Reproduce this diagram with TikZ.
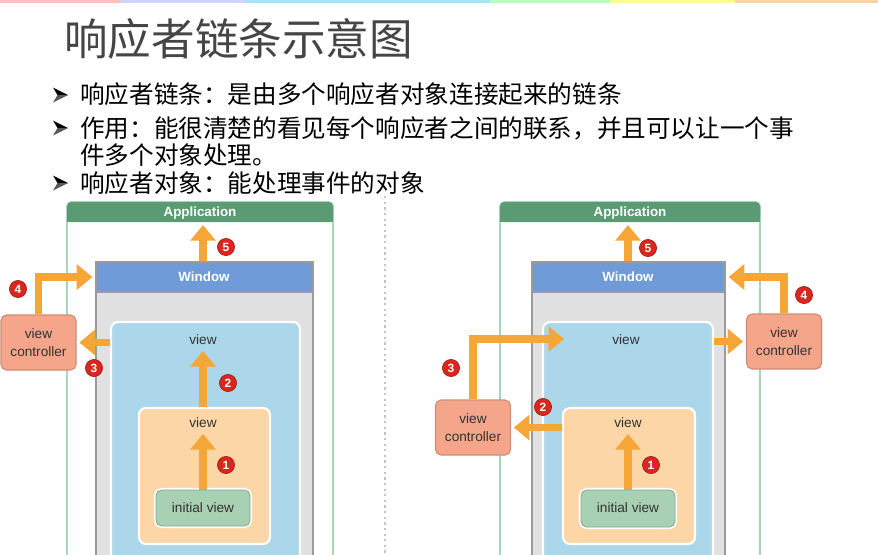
\documentclass[tikz,border=0pt]{standalone}
\usepackage{fontspec}
\setmainfont{Liberation Sans}
\newfontfamily\cjkfont{Noto Sans CJK SC}
\usetikzlibrary{arrows.meta,fit,calc}

\definecolor{titlegray}{HTML}{454545}
\definecolor{appgreen}{HTML}{5B9B73}
\definecolor{appedge}{HTML}{A9D6BB}
\definecolor{winblue}{HTML}{6F9BD8}
\definecolor{winbody}{HTML}{E1E1E1}
\definecolor{winedge}{HTML}{9B9B9B}
\definecolor{outerblue}{HTML}{ACD7EA}
\definecolor{peach}{HTML}{FDD6A8}
\definecolor{initgreen}{HTML}{A7D1B2}
\definecolor{initedge}{HTML}{87A68F}
\definecolor{vcfill}{HTML}{F4A58A}
\definecolor{vcedge}{HTML}{CF8D75}
\definecolor{floworange}{HTML}{F6A637}
\definecolor{badgered}{HTML}{D9271E}
\definecolor{labelgray}{HTML}{333333}
\definecolor{dividergray}{HTML}{C4C4C4}

\tikzset{
  appframe/.style={draw=appedge, fill=white, line width=1.2pt, rounded corners=3pt, inner sep=0pt},
  apphead/.style={fill=appgreen, rounded corners=3pt, inner sep=0pt},
  headlabel/.style={text=white, font=\bfseries\fontsize{9.5}{11}\selectfont, inner sep=1pt},
  winframe/.style={draw=winedge, fill=winbody, line width=1.2pt, inner sep=0pt},
  winhead/.style={draw=winedge, fill=winblue, line width=1.2pt, inner sep=0pt},
  outerview/.style={draw=white, fill=outerblue, line width=1.5pt, rounded corners=5pt, inner sep=0pt},
  innerview/.style={draw=white, fill=peach, line width=1.5pt, rounded corners=5pt, inner sep=0pt},
  initview/.style={preaction={draw=white, line width=3pt}, draw=initedge, fill=initgreen,
    line width=0.6pt, rounded corners=4pt, inner sep=0pt},
  boxlabel/.style={text=labelgray, font=\fontsize{9.7}{11}\selectfont, inner sep=2pt},
  vcbox/.style={draw=vcedge, fill=vcfill, line width=0.8pt, rounded corners=4pt,
    minimum width=1.875cm, minimum height=1.375cm, align=center, text=labelgray,
    font=\fontsize{9.7}{12.5}\selectfont},
  badge/.style={circle, fill=badgered, draw=badgered!70!black, line width=0.4pt,
    minimum size=0.43cm, inner sep=0pt, text=white, font=\bfseries\fontsize{8.5}{8.5}\selectfont},
  flow/.style={draw=floworange, line width=0.18cm,
    -{Triangle[width=0.62cm,length=0.39cm]}, shorten >=2pt},
  bullettext/.style={anchor=base west, inner sep=0pt, font=\cjkfont\fontsize{17.5}{18}\selectfont},
}

\begin{document}
\begin{tikzpicture}[x=0.025cm, y=-0.025cm]
\useasboundingbox (0,0) rectangle (878,554);
\clip (0,0) rectangle (878,554);
\fill[white] (0,0) rectangle (878,554);

% thin coloured band along the top edge
\fill[red!25] (0,0) rectangle (120,3);
\fill[blue!18] (120,0) rectangle (245,3);
\fill[cyan!35] (245,0) rectangle (490,3);
\fill[green!28] (490,0) rectangle (610,3);
\fill[yellow!40] (610,0) rectangle (735,3);
\fill[orange!35] (735,0) rectangle (878,3);

% heading and bullet list
\node[anchor=base west, inner sep=0pt, text=titlegray,
      font=\cjkfont\fontsize{31}{36}\selectfont] (title) at (64,55) {响应者链条示意图};

% arrowhead bullets, upper face black and lower face grey
\foreach \c in {95,128,183}{
  \fill[black] (68,\c) -- (53,\c-7.5) -- (57.5,\c) -- cycle;
  \fill[black!65] (68,\c) -- (53,\c+7.5) -- (57.5,\c) -- cycle;
}
\node[bullettext] (t1) at (80,103) {响应者链条：是由多个响应者对象连接起来的链条};
\node[bullettext] (t2) at (80,137) {作用：能很清楚的看见每个响应者之间的联系，并且可以让一个事};
\node[bullettext] (t2b) at (80,164) {件多个对象处理。};
\node[bullettext] (t3) at (80,192) {响应者对象：能处理事件的对象};

% dotted separator between the two chains
\draw[dividergray, line width=1.6pt, dash pattern=on 1.6pt off 2.4pt] (385,196) -- (385,554);

% ---------------- left chain ----------------
\node[appframe, fit={(67,202) (333,580)}] (appL) {};
\node[apphead, fit={(67,202) (333,222)}] (appLhead) {};
\fill[appgreen] (67,212) rectangle (333,222);
\node[headlabel] (appLlbl) at (200,213) {Application};

\node[winframe, fit={(96,262) (313,580)}] (winL) {};
\node[winhead, fit={(96,262) (313,292)}] (winLhead) {};
\node[headlabel] (winLlbl) at (204,277) {Window};

\node[outerview, fit={(111,322) (300,580)}] (outerL) {};
\node[boxlabel] (outerLlbl) at (203,340) {view};
\node[innerview, fit={(139,408) (270,544)}] (innerL) {};
\node[boxlabel] (innerLlbl) at (203,423) {view};
\node[initview, fit={(156,490) (250,526)}] (initL) {};
\node[boxlabel] (initLlbl) at (203,508) {initial view};

\node[vcbox] (vcL) at (38.5,342.5) {view\\controller};

\draw[flow] (initLlbl.center |- initL.north) -- (initLlbl.center |- innerLlbl.south);
\draw[flow] (innerLlbl.south |- innerL.north) -- (outerLlbl.south);
\draw[flow] (outerL.west |- vcL.east) -- (vcL.east);
\draw[flow] (vcL.north) |- (winLhead.west);
\draw[flow] (outerLlbl.south |- winLhead.north) -- (outerLlbl.south |- appLhead.south);

\node[badge] (b1L) at (226,465) {1};
\node[badge] (b2L) at (228,383) {2};
\node[badge] (b3L) at (94,368) {3};
\node[badge] (b4L) at (18,289) {4};
\node[badge] (b5L) at (226,247) {5};

% ---------------- right chain ----------------
\node[appframe, fit={(500,202) (760,580)}] (appR) {};
\node[apphead, fit={(500,202) (760,222)}] (appRhead) {};
\fill[appgreen] (500,212) rectangle (760,222);
\node[headlabel] (appRlbl) at (630,213) {Application};

\node[winframe, fit={(532,262) (725,580)}] (winR) {};
\node[winhead, fit={(532,262) (725,292)}] (winRhead) {};
\node[headlabel] (winRlbl) at (628,277) {Window};

\node[outerview, fit={(543,322) (713,580)}] (outerR) {};
\node[boxlabel] (outerRlbl) at (626,340) {view};
\node[innerview, fit={(563,408) (695,544)}] (innerR) {};
\node[boxlabel] (innerRlbl) at (628,423) {view};
\node[initview, fit={(581,490) (675,527)}] (initR) {};
\node[boxlabel] (initRlbl) at (628,508) {initial view};

\node[vcbox] (vcRL) at (473,427.5) {view\\controller};
\node[vcbox] (vcRR) at (784,341.5) {view\\controller};
\coordinate (viewRin) at (567,339);

\draw[flow] (initRlbl.center |- initR.north) -- (initRlbl.center |- innerRlbl.south);
\draw[flow] (innerR.west |- vcRL.east) -- (vcRL.east);
\draw[flow] (vcRL.north) |- (viewRin);
\draw[flow] (outerR.east |- vcRR.west) -- (vcRR.west);
\draw[flow] (vcRR.north) |- (winRhead.east);
\draw[flow] (innerRlbl.south |- winRhead.north) -- (innerRlbl.south |- appRhead.south);

\node[badge] (b1R) at (651,465) {1};
\node[badge] (b2R) at (543,407) {2};
\node[badge] (b3R) at (451,368) {3};
\node[badge] (b4R) at (804,295) {4};
\node[badge] (b5R) at (648,248) {5};
\end{tikzpicture}
\end{document}
